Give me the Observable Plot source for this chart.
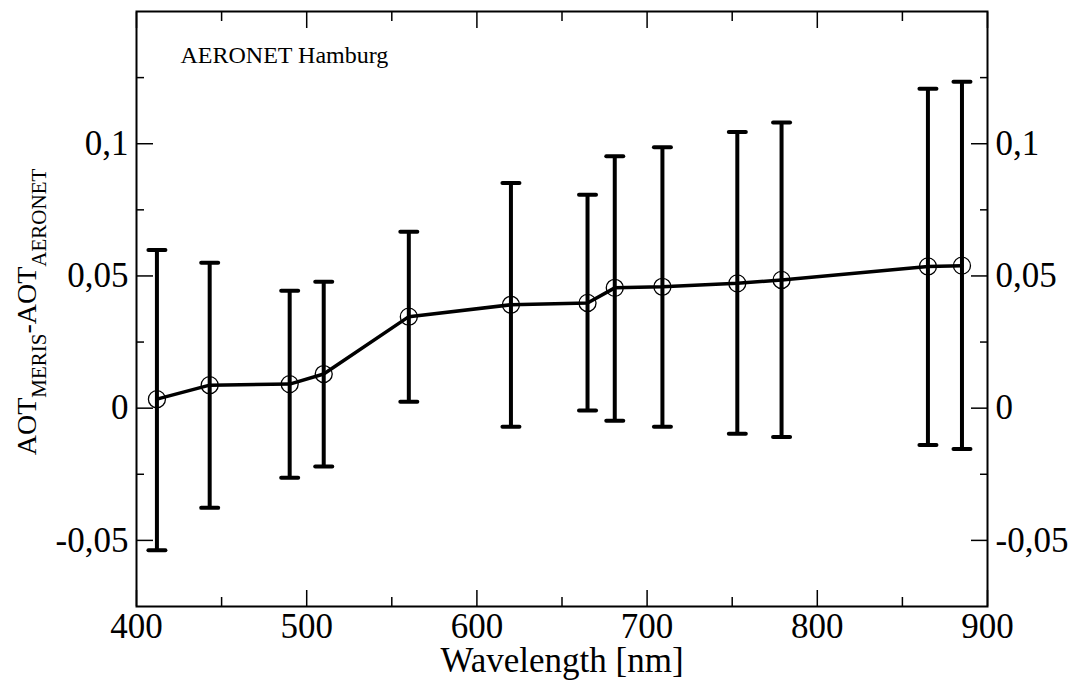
<!DOCTYPE html>
<html>
<head>
<meta charset="utf-8">
<script src="https://cdn.jsdelivr.net/npm/d3@7"></script>
<script src="https://cdn.jsdelivr.net/npm/@observablehq/plot@0.6"></script>
<style>
  html, body { margin: 0; padding: 0; background: #fff; }
  svg { display: block; }
</style>
</head>
<body>
<div id="chart"></div>
<script>
const wavelength = [412, 443, 490, 510, 560, 620, 665, 681, 709, 753, 779, 865, 885];
const meanDiff   = [0.0034, 0.0087, 0.0091, 0.0129, 0.0346, 0.0391, 0.0398, 0.0455, 0.0459, 0.0472, 0.0485, 0.0536, 0.0539];
const upperDiff  = [0.0598, 0.0550, 0.0444, 0.0478, 0.0667, 0.0851, 0.0807, 0.0953, 0.0987, 0.1044, 0.1080, 0.1208, 0.1234];
const lowerDiff  = [-0.0537, -0.0377, -0.0263, -0.0221, 0.0024, -0.0070, -0.0009, -0.0048, -0.0070, -0.0097, -0.0109, -0.0139, -0.0154];

const xMajor = [400, 500, 600, 700, 800, 900];
const xMinor = [450, 550, 650, 750, 850];
const yMajor = [-0.05, 0, 0.05, 0.1];
const yMinor = [-0.025, 0.025, 0.075, 0.125];
const xTitle = "Wavelength [nm]";
const stationLabel = "AERONET Hamburg";

const data = wavelength.map((w, i) => ({w, m: meanDiff[i], lo: lowerDiff[i], hi: upperDiff[i]}));

const fmt = d => d === 0 ? "0" : String(d).replace(".", ",");
const FONT = "'Liberation Serif', 'Times New Roman', serif";

const capShape = {
  draw(context, l) { context.moveTo(-l / 2, 0); context.lineTo(l / 2, 0); }
};

const tickOpts = {tickFormat: () => "", label: null, strokeWidth: 1.5};

const plot = Plot.plot({
  width: 1074,
  height: 680,
  marginLeft: 136,
  marginRight: 87,
  marginTop: 11,
  marginBottom: 74,
  style: {fontFamily: FONT, background: "#fff", color: "#000"},
  x: {domain: [400, 900]},
  y: {domain: [-0.075, 0.15]},
  marks: [
    // inward ticks on all four sides
    Plot.axisX(xMajor, {anchor: "bottom", tickSize: -16, ...tickOpts}),
    Plot.axisX(xMinor, {anchor: "bottom", tickSize: -9, ...tickOpts}),
    Plot.axisX(xMajor, {anchor: "top", tickSize: -16, ...tickOpts}),
    Plot.axisX(xMinor, {anchor: "top", tickSize: -9, ...tickOpts}),
    Plot.axisY(yMajor, {anchor: "left", tickSize: -17, ...tickOpts}),
    Plot.axisY(yMinor, {anchor: "left", tickSize: -8, ...tickOpts}),
    Plot.axisY(yMajor, {anchor: "right", tickSize: -17, ...tickOpts}),
    Plot.axisY(yMinor, {anchor: "right", tickSize: -8, ...tickOpts}),
    // tick labels
    Plot.axisX(xMajor, {anchor: "bottom", tickSize: 0, tickPadding: 7, fontSize: 35, tickFormat: d => String(d), label: null}),
    Plot.axisY(yMajor, {anchor: "left", tickSize: 0, tickPadding: 8, fontSize: 35, tickFormat: fmt, label: null}),
    Plot.axisY(yMajor, {anchor: "right", tickSize: 0, tickPadding: 8, fontSize: 35, tickFormat: fmt, label: null}),
    Plot.frame({stroke: "#000", strokeWidth: 2}),
    // error bars
    Plot.ruleX(data, {x: "w", y1: "lo", y2: "hi", stroke: "#000", strokeWidth: 4}),
    Plot.vector(data, {x: "w", y: "hi", length: 17, anchor: "start", shape: capShape, stroke: "#000", strokeWidth: 4}),
    Plot.vector(data, {x: "w", y: "lo", length: 17, anchor: "start", shape: capShape, stroke: "#000", strokeWidth: 4}),
    // mean line & circles
    Plot.line(data, {x: "w", y: "m", stroke: "#000", strokeWidth: 3.5}),
    Plot.dot(data, {x: "w", y: "m", r: 8.5, stroke: "#000", strokeWidth: 1.3, fill: "none"}),
    // texts
    Plot.text([stationLabel], {frameAnchor: "top-left", dx: 44, dy: 51, lineAnchor: "bottom", textAnchor: "start", fontSize: 24, fill: "#000"}),
    Plot.text([xTitle], {frameAnchor: "bottom", dy: 65, lineAnchor: "bottom", textAnchor: "middle", fontSize: 35, fill: "#000"})
  ]
});

// y-axis title with subscripts
const svg = d3.select(plot);
const t = svg.append("text")
  .attr("transform", "translate(36,312) rotate(-90)")
  .attr("text-anchor", "middle")
  .attr("font-family", FONT)
  .attr("font-size", 28)
  .attr("fill", "#000");
t.append("tspan").text("AOT");
t.append("tspan").attr("font-size", 21).attr("dy", 10).text("MERIS");
t.append("tspan").attr("dy", -10).text("-AOT");
t.append("tspan").attr("font-size", 21).attr("dy", 10).text("AERONET");

document.getElementById("chart").appendChild(plot);
</script>
</body>
</html>
